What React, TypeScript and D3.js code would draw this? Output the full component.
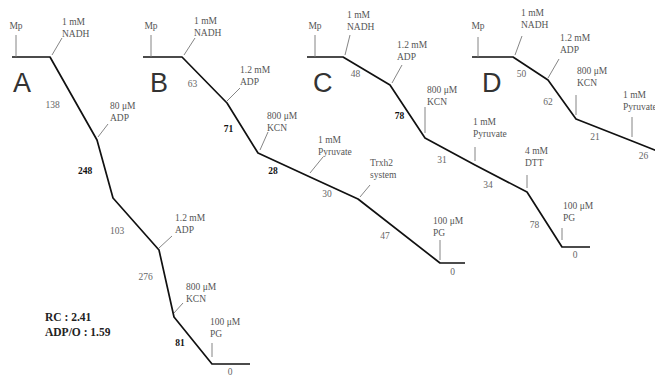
import React from "react";
import * as d3 from "d3";

const W = 655;
const H = 376;

// O2 electrode traces: time (s) and O2 left in the chamber (nmol)
const timeA = [0, 38, 85, 101, 147, 162, 200, 238];
const o2A = [320, 320, 237, 179, 127, 60, 13, 13];
const timeB = [0, 39, 84, 115, 167, 215, 297, 322];
const o2B = [320, 320, 274, 224, 200, 178, 114, 114];
const timeC = [0, 36, 83, 118, 168, 220, 255, 283];
const o2C = [320, 320, 292, 239, 212, 185, 130, 130];
const timeD = [0, 41, 76, 104, 160, 193];
const o2D = [320, 320, 297, 258, 236, 223];

// rates for every segment after the NADH addition
const ratesA = ["138", "248", "103", "276", "81", "0"];
const ratesB = ["63", "71", "28", "30", "47", "0"];
const ratesC = ["48", "78", "31", "34", "78", "0"];
const ratesD = ["50", "62", "21", "26"];

// additions: time and label
const addTimeA = [4, 38, 85, 147, 162, 200];
const addTextA = [["Mp"], ["1 mM", "NADH"], ["80 μM", "ADP"], ["1.2 mM", "ADP"], ["800 μM", "KCN"], ["100 μM", "PG"]];
const addTimeB = [8, 39, 84, 115, 167, 215, 297];
const addTextB = [["Mp"], ["1 mM", "NADH"], ["1.2 mM", "ADP"], ["800 μM", "KCN"], ["1 mM", "Pyruvate"], ["Trxh2", "system"], ["100 μM", "PG"]];
const addTimeC = [8, 36, 83, 118, 168, 220, 255];
const addTextC = [["Mp"], ["1 mM", "NADH"], ["1.2 mM", "ADP"], ["800 μM", "KCN"], ["1 mM", "Pyruvate"], ["4 mM", "DTT"], ["100 μM", "PG"]];
const addTimeD = [6, 41, 76, 104, 160];
const addTextD = [["Mp"], ["1 mM", "NADH"], ["1.2 mM", "ADP"], ["800 μM", "KCN"], ["1 mM", "Pyruvate"]];

const panelNames = ["A", "B", "C", "D"];
const summaryA = ["RC : 2.41", "ADP/O : 1.59"];

// ---- layout ----
const panelX = [12, 143, 307, 472];
const letterDx = [1, 7, 6, 10];
// arrow start dx,dy / end dx,dy / label dx,dy (relative to the trace point)
const arrowsA = [[0, 0, 0, -22, 0, -28], [2, -2, 12, -19, 12, -20], [1, -3, 11, -16, 13, -19], [0, -2, 13, -14, 16, -17], [0, -4, 9, -14, 12, -15], [0, -7, 0, -21, -2, -27]];
const arrowsB = [[0, 0, 0, -22, 0, -28], [2, -2, 13, -19, 12, -21], [0, -2, 13, -15, 13, -18], [2, -3, 10, -21, 9, -22], [0, -4, 13, -20, 8, -22], [2, -2, 12, -14, 12, -21], [0, -3, 0, -23, -7, -27]];
const arrowsC = [[0, 0, 0, -22, 0, -28], [2, -2, 7, -22, 4, -27], [2, -2, 12, -20, 7, -25], [0, -5, 0, -31, 2, -33], [0, -4, 0, -18, -2, -28], [0, -4, 0, -17, -2, -26], [0, -7, 0, -19, 1, -26]];
const arrowsD = [[0, 0, 0, -20, 0, -28], [2, -2, 9, -21, 8, -29], [0, -2, 11, -21, 12, -27], [0, -4, 0, -24, 1, -33], [0, -4, 0, -24, -9, -31]];
// rate label offsets from segment midpoints
const rateOffA = [[-21, 7], [-20, 3], [-19, 8], [-21, -6], [-13, 3], [-1, 9]];
const rateOffB = [[-12, 5], [-14, 2], [-11, 7], [-7, 7], [-14, 6], [0, 10]];
const rateOffC = [[-11, 4], [-8, 5], [-8, 9], [-13, 7], [-10, 6], [-1, 9]];
const rateOffD = [[-9, 6], [-14, 3], [-9, 8], [-5, 9]];
const boldRates = [[1, 4], [1, 2], [1], []];

const panels = [
  { time: timeA, o2: o2A, rates: ratesA, addTime: addTimeA, addText: addTextA, arrows: arrowsA, rateOff: rateOffA },
  { time: timeB, o2: o2B, rates: ratesB, addTime: addTimeB, addText: addTextB, arrows: arrowsB, rateOff: rateOffB },
  { time: timeC, o2: o2C, rates: ratesC, addTime: addTimeC, addText: addTextC, arrows: arrowsC, rateOff: rateOffC },
  { time: timeD, o2: o2D, rates: ratesD, addTime: addTimeD, addText: addTextD, arrows: arrowsD, rateOff: rateOffD },
];

const serif = "'Liberation Serif', 'Times New Roman', serif";

export default function App() {
  const x = d3.scaleLinear().domain([0, 100]).range([0, 100]);
  const y = d3.scaleLinear().domain([0, 320]).range([377, 57]);

  return (
    <svg
      width={W}
      height={H}
      style={{ position: "absolute", left: 0, top: 0, background: "#fff" }}
    >
      {panels.map((p, pi) => {
        const px = (t: number) => panelX[pi] + x(t);
        const pts = p.time.map((t, i) => [px(t), y(p.o2[i])] as [number, number]);
        const line = d3.line()(pts) || "";
        const o2At = d3.scaleLinear().domain(p.time).range(p.o2);
        return (
          <g key={pi}>
            <path d={line} fill="none" stroke="#111" strokeWidth={1.7} strokeLinejoin="round" />
            <text
              x={panelX[pi] + letterDx[pi]}
              y={92}
              fontFamily="'Liberation Sans', Arial, sans-serif"
              fontSize={27}
              fill="#333"
            >
              {panelNames[pi]}
            </text>
            {p.addTime.map((t, i) => {
              const ax = px(t);
              const ay = y(o2At(t));
              const [sx, sy, ex, ey, lx, ly] = p.arrows[i];
              const lines = p.addText[i];
              return (
                <g key={i}>
                  <line x1={ax + sx} y1={ay + sy} x2={ax + ex} y2={ay + ey} stroke="#777" strokeWidth={0.9} />
                  {lines.map((s, li) => (
                    <text
                      key={li}
                      x={ax + lx}
                      y={ay + ly - 12 * (lines.length - 1 - li)}
                      textAnchor={i === 0 ? "middle" : "start"}
                      fontFamily={serif}
                      fontSize={9.5}
                      fill="#555"
                    >
                      {s}
                    </text>
                  ))}
                </g>
              );
            })}
            {p.rates.map((r, i) => {
              const a = pts[i + 1];
              const b = pts[i + 2];
              const bold = boldRates[pi].includes(i);
              return (
                <text
                  key={i}
                  x={(a[0] + b[0]) / 2 + p.rateOff[i][0]}
                  y={(a[1] + b[1]) / 2 + p.rateOff[i][1]}
                  textAnchor="middle"
                  dominantBaseline="middle"
                  fontFamily={serif}
                  fontSize={9.5}
                  fontWeight={bold ? "bold" : "normal"}
                  fill={bold ? "#111" : "#666"}
                >
                  {r}
                </text>
              );
            })}
          </g>
        );
      })}
      {summaryA.map((s, i) => (
        <text key={i} x={45} y={321 + 15 * i} fontFamily={serif} fontSize={11.5} fontWeight="bold" fill="#222">
          {s}
        </text>
      ))}
    </svg>
  );
}
